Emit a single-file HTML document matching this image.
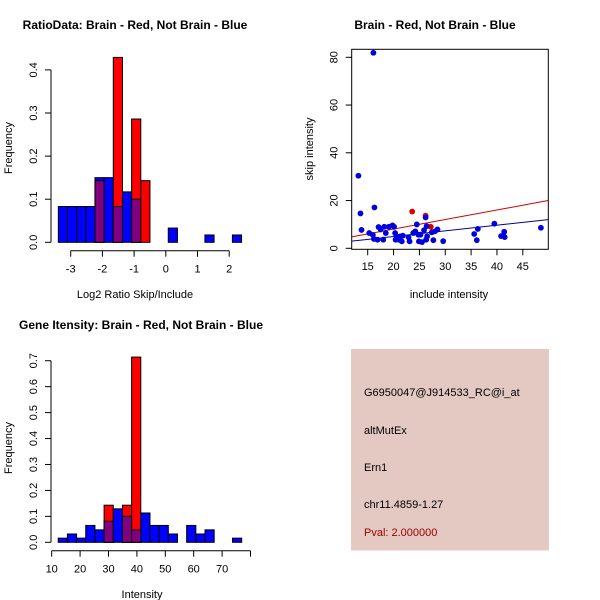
<!DOCTYPE html>
<html><head><meta charset="utf-8"><style>
body{margin:0;background:#fff;}
svg{display:block;font-family:"Liberation Sans",sans-serif;}
</style></head><body>
<svg id="s" width="600" height="600" viewBox="0 0 600 600">
<rect width="600" height="600" fill="#fff"/>
<rect x="351" y="349" width="198" height="201.5" fill="#e4c8c2"/>
<text x="364" y="396" font-size="11" fill="#000">G6950047@J914533_RC@i_at</text>
<text x="364" y="434" font-size="11" fill="#000">altMutEx</text>
<text x="364" y="471" font-size="11" fill="#000">Ern1</text>
<text x="364" y="508" font-size="11" fill="#000">chr11.4859-1.27</text>
<text x="364" y="536" font-size="11" fill="#a00000">Pval: 2.000000</text>
</svg>
<script>
// Panel 1: log2 ratio histogram
const ratioBinStart = -3.39, ratioBinWidth = 0.289;
const ratioBlue = [0.083,0.083,0.083,0.083,0.15,0.15,0.083,0.117,0.1,0,0,0,0.033,0,0,0,0.017,0,0,0.017];
const ratioRed  = [0,0,0,0,0.143,0,0.429,0,0.286,0.143,0,0,0,0,0,0,0,0,0,0];
const ratioXTicks = [-3,-2,-1,0,1,2];
const ratioYTicks = [0.0,0.1,0.2,0.3,0.4];
// Panel 2: scatter
const scatBlueX = [16.1,13.2,13.6,13.8,16.3,15.3,16.0,16.2,16.9,17.1,17.5,18.0,18.2,18.5,19.1,19.8,20.1,20.3,20.4,20.6,21,21.3,21.6,21.8,22.9,23.1,23.8,24.2,24.8,24.9,25.2,25.5,25.9,26.2,26.3,26.4,26.5,27.4,27.7,28,28.5,29.6,35.6,36.1,36.3,39.5,40.8,41.4,41.5,48.5,24.5];
const scatBlueY = [81.9,30.4,14.6,7.7,17.1,6.4,5.6,3.9,3.6,8.9,7.9,3.6,9,6.4,9,9.6,9,6.4,3.6,5,3.6,5,2.9,5.3,4.6,2.9,6.4,7.1,5.7,2.9,5.7,2.6,7.6,12.9,3.6,9.3,5,6.7,3.4,7.1,7.9,3,6,3.4,8.1,10.3,5.1,6.9,4.7,8.6,10];
const scatRedX = [23.6,26.2,27.2];
const scatRedY = [15.4,13.7,9];
const redLine = [11.9,4.8,49.9,20];
const blueLine = [11.9,3,49.9,12];
const scatXTicks = [15,20,25,30,35,40,45];
const scatYTicks = [0,20,40,60,80];
// Panel 3: intensity histogram
const intBinStart = 12.3, intBinWidth = 3.23;
const intBlue = [0.016,0.032,0.016,0.065,0.048,0.081,0.129,0.1,0.048,0.113,0.065,0.065,0.032,0,0.065,0.032,0.048,0,0,0.016];
const intRed  = [0,0,0,0,0,0.143,0,0.143,0.714,0,0,0,0,0,0,0,0,0,0,0];
const intXTicks = [10,20,30,40,50,60,70];
const intYTicks = [0.0,0.1,0.2,0.3,0.4,0.5,0.6,0.7];

const svg = document.getElementById('s');
const NS = 'http://www.w3.org/2000/svg';
function mk(tag, attrs, parent){const e=document.createElementNS(NS,tag);for(const k in attrs)e.setAttribute(k,attrs[k]);(parent||svg).appendChild(e);return e;}
function txt(x,y,s,size,extra){const t=mk('text',Object.assign({x:x,y:y,'font-size':size,'text-anchor':'middle',fill:'#000'},extra||{}));t.textContent=s;return t;}

function hist(opts){
  const g=mk('g',{});
  
  
  const X=v=>opts.x0+(v-opts.xv0)*opts.xs, Y=v=>opts.y0-v*opts.ys;
  for(let i=0;i<opts.blue.length;i++){
    const b=opts.blue[i], r=opts.red[i];
    const l=X(opts.bs+i*opts.bw), w=opts.bw*opts.xs;
    if(b>0){const e=mk('rect',{x:l,y:Y(b),width:w,height:b*opts.ys,fill:'#0000ff',stroke:'#000','stroke-width':1},g);
      
      }
    if(r>0){const e=mk('rect',{x:l,y:Y(r),width:w,height:r*opts.ys,fill:'#ff0000',stroke:'#000','stroke-width':1},g);
      
      }
    const m=Math.min(b,r);
    if(m>0){const e=mk('rect',{x:l,y:Y(m),width:w,height:m*opts.ys,fill:'#800080',stroke:'#000','stroke-width':1},g);
      
      }
  }
  const xt=opts.xticks, ya=opts.axisY;
  mk('line',{x1:X(xt[0]),x2:X(opts.xEnd),y1:ya,y2:ya,stroke:'#000'},g);
  const xtk=opts.allX||xt;
  xtk.forEach(v=>mk('line',{x1:X(v),x2:X(v),y1:ya,y2:ya+6,stroke:'#000'},g));
  xt.forEach(v=>{const t=txt(X(v),ya+22,String(v),11);});
  const yt=opts.yticks, xa=opts.axisX;
  mk('line',{x1:xa,x2:xa,y1:Y(yt[0]),y2:Y(yt[yt.length-1]),stroke:'#000'},g);
  yt.forEach(v=>{mk('line',{x1:xa,x2:xa-6,y1:Y(v),y2:Y(v),stroke:'#000'},g);
    const t=txt(0,0,v.toFixed(1),11,{transform:`translate(${xa-14},${Y(v)}) rotate(-90)`});
    });
}

hist({name:'ratio-histogram',x0:70.7,xv0:-3,xs:31.7,y0:242.3,ys:431,bs:ratioBinStart,bw:ratioBinWidth,blue:ratioBlue,red:ratioRed,xticks:ratioXTicks,xEnd:2,yticks:ratioYTicks,axisY:250.7,axisX:51});
hist({name:'intensity-histogram',x0:51.7,xv0:10,xs:2.84,y0:542.3,ys:259.4,bs:intBinStart,bw:intBinWidth,blue:intBlue,red:intRed,xticks:intXTicks,allX:[10,20,30,40,50,60,70,80],xEnd:80,yticks:intYTicks,axisY:550.7,axisX:51});

[[135,29,'RatioData: Brain - Red, Not Brain - Blue','ratio-title'],[435,29,'Brain - Red, Not Brain - Blue','scatter-title'],[141,329,'Gene Itensity: Brain - Red, Not Brain - Blue','intensity-title']].forEach(a=>{
  const t=txt(a[0],a[1],a[2],12,{'font-weight':'bold'});});
[[135,298,'Log2 Ratio Skip/Include','ratio-x-title'],[449,298,'include intensity','scatter-x-title'],[142,598,'Intensity','intensity-x-title']].forEach(a=>{
  const t=txt(a[0],a[1],a[2],11);});
[[12,148,'Frequency','ratio-y-title'],[313,149,'skip intensity','scatter-y-title'],[12,448,'Frequency','intensity-y-title']].forEach(a=>{
  const t=txt(0,0,a[2],11,{transform:`translate(${a[0]},${a[1]}) rotate(-90)`});});

(function(){
  const SX=v=>367.7+(v-15)*5.17, SY=v=>248.3-v*2.3875;
  const g=mk('g',{});
  
  
  const cp=mk('clipPath',{id:'cp'},g);mk('rect',{x:351.7,y:49.3,width:196.6,height:200},cp);
  const box=mk('rect',{x:351.7,y:49.3,width:196.6,height:200,fill:'none',stroke:'#000'},g);
  
  
  scatXTicks.forEach(v=>{mk('line',{x1:SX(v),x2:SX(v),y1:249.3,y2:255.3,stroke:'#000'},g);
    const t=txt(SX(v),270,String(v),11);});
  scatYTicks.forEach(v=>{mk('line',{x1:351.7,x2:345.7,y1:SY(v),y2:SY(v),stroke:'#000'},g);
    const t=txt(0,0,String(v),11,{transform:`translate(${337.7},${SY(v)}) rotate(-90)`});});
  const rl=mk('line',{x1:SX(redLine[0]),y1:SY(redLine[1]),x2:SX(redLine[2]),y2:SY(redLine[3]),stroke:'#cc0000','clip-path':'url(#cp)'},g);
  
  
  const bl=mk('line',{x1:SX(blueLine[0]),y1:SY(blueLine[1]),x2:SX(blueLine[2]),y2:SY(blueLine[3]),stroke:'#000099','clip-path':'url(#cp)'},g);
  
  
  scatRedX.forEach((x,i)=>{const c=mk('circle',{cx:SX(x),cy:SY(scatRedY[i]),r:2.9,fill:'#dd0000'},g);
    
    });
  scatBlueX.forEach((x,i)=>{const c=mk('circle',{cx:SX(x),cy:SY(scatBlueY[i]),r:2.9,fill:'#0000dd'},g);
    
    });
})();
</script>
</body></html>
